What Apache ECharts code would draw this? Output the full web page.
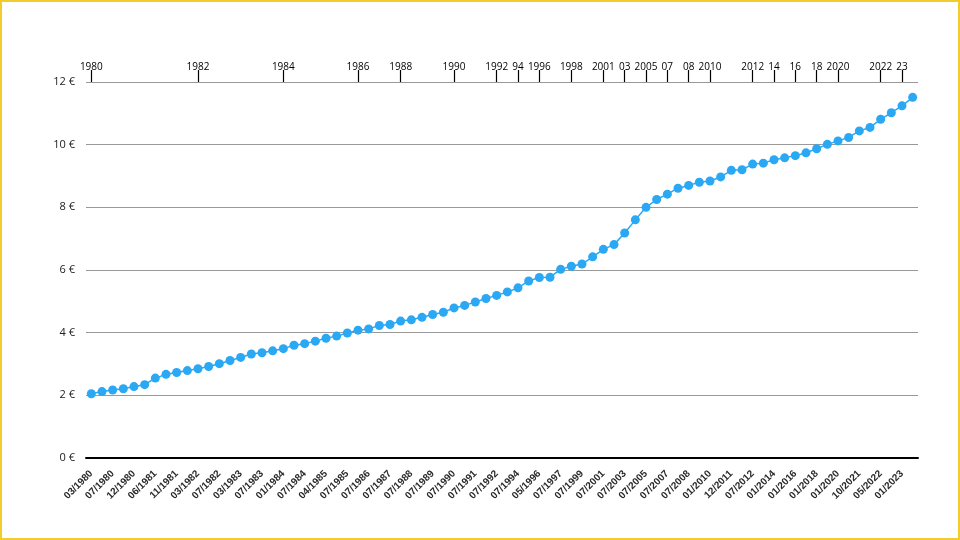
<!DOCTYPE html>
<html>
<head>
<meta charset="utf-8">
<script src="https://cdn.jsdelivr.net/npm/echarts@6/dist/echarts.min.js"></script>
<style>
  html, body { margin: 0; padding: 0; background: #fff; }
  #frame { width: 960px; height: 540px; box-sizing: border-box; border: 2px solid #f2cc2a; position: relative; }
  #chart { position: absolute; left: -2px; top: -2px; width: 960px; height: 540px; }
</style>
</head>
<body>
<div id="frame"><div id="chart"></div></div>
<script>
const categories = [
  '03/1980','05/1980','07/1980','09/1980','12/1980','03/1981','06/1981','07/1981','11/1981','12/1981',
  '03/1982','06/1982','07/1982','12/1982','03/1983','06/1983','07/1983','11/1983','01/1984','04/1984',
  '07/1984','11/1984','04/1985','06/1985','07/1985','06/1986','07/1986','03/1987','07/1987','03/1988',
  '07/1988','03/1989','07/1989','04/1990','07/1990','03/1991','07/1991','12/1991','07/1992','07/1993',
  '07/1994','07/1995','05/1996','07/1996','07/1997','07/1998','07/1999','07/2000','07/2001','07/2002',
  '07/2003','07/2004','07/2005','07/2006','07/2007','05/2008','07/2008','07/2009','01/2010','01/2011',
  '12/2011','01/2012','07/2012','01/2013','01/2014','01/2015','01/2016','01/2017','01/2018','01/2019',
  '01/2020','01/2021','10/2021','01/2022','05/2022','08/2022','01/2023','05/2023'
];
const values = [
  2.05, 2.12, 2.17, 2.21, 2.28, 2.34, 2.55, 2.67, 2.73, 2.79,
  2.85, 2.92, 3.01, 3.11, 3.21, 3.32, 3.36, 3.42, 3.49, 3.60,
  3.65, 3.73, 3.82, 3.89, 3.99, 4.08, 4.12, 4.23, 4.26, 4.37,
  4.41, 4.49, 4.58, 4.65, 4.79, 4.87, 4.98, 5.09, 5.19, 5.30,
  5.43, 5.65, 5.76, 5.77, 6.02, 6.12, 6.19, 6.42, 6.66, 6.81,
  7.18, 7.60, 8.00, 8.25, 8.42, 8.61, 8.70, 8.80, 8.84, 8.97,
  9.18, 9.20, 9.38, 9.41, 9.52, 9.58, 9.65, 9.74, 9.87, 10.01,
  10.12, 10.23, 10.44, 10.55, 10.81, 11.02, 11.24, 11.51
];
// Year labels of the top axis, keyed by category
const topLabelMap = {
  '03/1980': '1980', '03/1982': '1982', '01/1984': '1984', '06/1986': '1986',
  '03/1988': '1988', '07/1990': '1990', '07/1992': '1992', '07/1994': '94',
  '05/1996': '1996', '07/1998': '1998', '07/2001': '2001', '07/2003': '03',
  '07/2005': '2005', '07/2007': '07', '07/2008': '08', '01/2010': '2010',
  '07/2012': '2012', '01/2014': '14', '01/2016': '16', '01/2018': '18',
  '01/2020': '2020', '05/2022': '2022', '01/2023': '23'
};
const yTicks = [0, 2, 4, 6, 8, 10, 12];

const chart = echarts.init(document.getElementById('chart'));
chart.setOption({
  backgroundColor: 'transparent',
  animation: false,
  grid: { left: 86, right: 42, top: 82, bottom: 82 },
  xAxis: [
    {
      type: 'category',
      data: categories,
      boundaryGap: true,
      position: 'bottom',
      axisLine: { show: true, lineStyle: { color: '#000', width: 2 } },
      axisTick: { show: false },
      axisLabel: {
        interval: 1,
        rotate: 45,
        margin: 14,
        fontSize: 10,
        fontWeight: 'bold',
        color: '#2a2a2a',
        fontFamily: 'Liberation Sans Narrow, Liberation Sans, sans-serif'
      },
      splitLine: { show: false }
    },
    {
      type: 'category',
      data: categories,
      boundaryGap: true,
      position: 'top',
      axisLine: { show: false },
      axisTick: {
        show: true,
        alignWithLabel: true,
        length: 12,
        interval: (i, v) => topLabelMap[v] !== undefined,
        lineStyle: { color: '#000', width: 1.2 }
      },
      axisLabel: {
        interval: (i, v) => topLabelMap[v] !== undefined,
        formatter: v => topLabelMap[v] || '',
        margin: 10,
        fontSize: 10,
        color: '#000',
        fontFamily: 'Open Sans, DejaVu Sans, sans-serif'
      },
      splitLine: { show: false }
    }
  ],
  yAxis: {
    type: 'value',
    min: yTicks[0],
    max: yTicks[yTicks.length - 1],
    interval: 2,
    axisLine: { show: false },
    axisTick: { show: false },
    axisLabel: {
      formatter: '{value} €',
      margin: 11,
      fontSize: 11,
      color: '#222',
      fontFamily: 'Open Sans, DejaVu Sans, sans-serif'
    },
    splitLine: { show: true, lineStyle: { color: '#999', width: 1 } }
  },
  series: [{
    type: 'line',
    xAxisIndex: 0,
    data: values,
    symbol: 'circle',
    symbolSize: 9,
    showAllSymbol: true,
    itemStyle: { color: '#2aa8f4' },
    lineStyle: { color: '#2aa8f4', width: 1.5 },
    z: 5
  }]
});
</script>
</body>
</html>
